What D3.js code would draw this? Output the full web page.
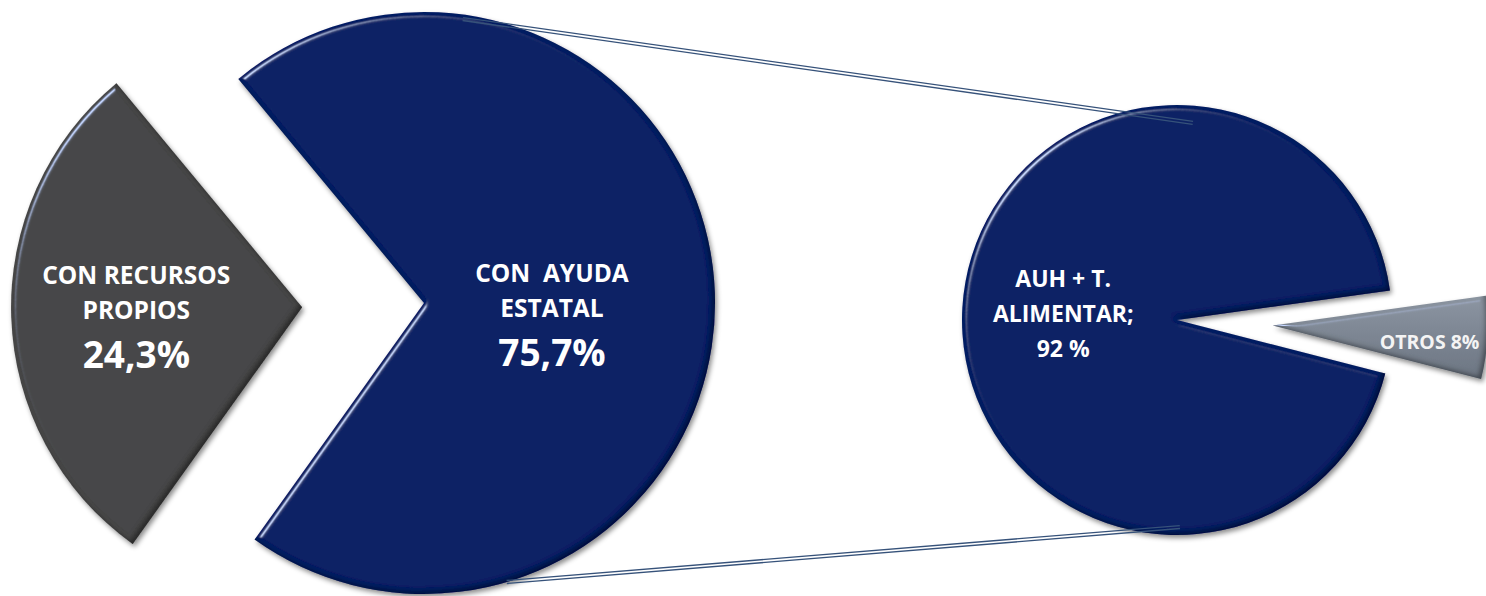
<!DOCTYPE html>
<html>
<head>
<meta charset="utf-8">
<script src="https://cdn.jsdelivr.net/npm/d3@7"></script>
<style>
  body { margin: 0; background: #fff; }
  svg { display: block; }
  text { font-family: 'Open Sans', 'Noto Sans', sans-serif; font-weight: 700; fill: #fff; white-space: pre; }
</style>
</head>
<body>
<svg id="chart"></svg>
<script>
// main pie: slice sizes as drawn in the picture, labels as printed on it
const mainCategories = ['CON RECURSOS PROPIOS', 'CON  AYUDA ESTATAL']
const mainShares = [29.1, 70.9]
const mainLabelLines = [['CON RECURSOS', 'PROPIOS'], ['CON  AYUDA', 'ESTATAL']]
const mainPercents = ['24,3%', '75,7%']

// secondary pie (breakdown of CON AYUDA ESTATAL)
const subCategories = ['AUH + T. ALIMENTAR', 'OTROS']
const subShares = [93.8, 6.2]
const subLabelLines = [['AUH + T.', 'ALIMENTAR;', '92 %'], ['OTROS 8%']]

const width = 1486
const height = 596
const deg = Math.PI / 180

const svg = d3.select('#chart')
  .attr('width', width)
  .attr('height', height)

const defs = svg.append('defs')

// office-like bevel + shadow
const f = defs.append('filter').attr('id', 'bevel')
  .attr('x', '-10%').attr('y', '-10%').attr('width', '125%').attr('height', '125%')
f.append('feGaussianBlur').attr('in', 'SourceAlpha').attr('stdDeviation', 2.5).attr('result', 'blur')
const spec = f.append('feSpecularLighting').attr('in', 'blur')
  .attr('surfaceScale', 4).attr('specularConstant', 1.2).attr('specularExponent', 50)
  .attr('lighting-color', '#b8c8ee').attr('result', 'spec')
spec.append('feDistantLight').attr('azimuth', 225).attr('elevation', 40)
f.append('feComposite').attr('in', 'spec').attr('in2', 'SourceAlpha').attr('operator', 'in').attr('result', 'specIn')
f.append('feComponentTransfer').attr('in', 'SourceAlpha').attr('result', 'inv')
  .append('feFuncA').attr('type', 'table').attr('tableValues', '1 0')
f.append('feOffset').attr('in', 'inv').attr('dx', -3).attr('dy', -3).attr('result', 'invOff')
f.append('feGaussianBlur').attr('in', 'invOff').attr('stdDeviation', 2).attr('result', 'invBlur')
f.append('feComposite').attr('in', 'invBlur').attr('in2', 'SourceAlpha').attr('operator', 'in').attr('result', 'innerA')
f.append('feFlood').attr('flood-color', '#000').attr('flood-opacity', 0.6).attr('result', 'black1')
f.append('feComposite').attr('in', 'black1').attr('in2', 'innerA').attr('operator', 'in').attr('result', 'inner')
f.append('feGaussianBlur').attr('in', 'SourceAlpha').attr('stdDeviation', 2.5).attr('result', 'ds')
f.append('feOffset').attr('in', 'ds').attr('dx', 2).attr('dy', 3).attr('result', 'dsOff')
f.append('feFlood').attr('flood-color', '#000').attr('flood-opacity', 0.45).attr('result', 'black2')
f.append('feComposite').attr('in', 'black2').attr('in2', 'dsOff').attr('operator', 'in').attr('result', 'drop')
const merge = f.append('feMerge')
;['drop', 'SourceGraphic', 'inner', 'specIn'].forEach(n => merge.append('feMergeNode').attr('in', n))

const otrosGrad = defs.append('linearGradient').attr('id', 'otrosGrad')
  .attr('x1', 0).attr('y1', 0).attr('x2', 0).attr('y2', 1)
otrosGrad.append('stop').attr('offset', '0%').attr('stop-color', '#8c95a1')
otrosGrad.append('stop').attr('offset', '100%').attr('stop-color', '#6c7581')

const mainColors = ['#474747', '#042263']
const subColors = ['#042263', 'url(#otrosGrad)']

const mainPie = { cx: 424, cy: 303, r: 291, start: 215.6 * deg, explode: [122, 0], labelR: [0.57, 0.44], labelDy: [-1, 12] }
const subPie = { cx: 1177, cy: 320, r: 215, start: 104.4 * deg, explode: [0, 96], labelR: [0.53, 0.73], labelDy: [-1, 6] }

const offset = (a, d) => [Math.sin(a) * d, -Math.cos(a) * d]

function drawPie(cfg, shares, colors, cls) {
  const arcs = d3.pie().sort(null)
    .startAngle(cfg.start).endAngle(cfg.start + 2 * Math.PI)(shares)
  const arc = d3.arc().innerRadius(0).outerRadius(cfg.r)

  const g = svg.append('g').classed(cls, true)
    .attr('transform', `translate(${cfg.cx},${cfg.cy})`)

  g.selectAll('path')
    .data(arcs)
    .join('path')
    .attr('d', arc)
    .attr('fill', (d, i) => colors[i])
    .attr('filter', 'url(#bevel)')
    .attr('transform', (d, i) => {
      const [dx, dy] = offset((d.startAngle + d.endAngle) / 2, cfg.explode[i])
      return `translate(${dx},${dy})`
    })
  return arcs
}

const mainArcs = drawPie(mainPie, mainShares, mainColors, 'main')
const subArcs = drawPie(subPie, subShares, subColors, 'sub')

// series lines (double line)
const seriesLines = [
  { from: 7.8 * deg, fromR: 0.985, to: 4.6 * deg, toR: 0.92 },
  { from: 163.5 * deg, fromR: 1.0, to: 179.2 * deg, toR: 0.963 }
]
const lines = svg.append('g').classed('series-lines', true)
seriesLines.forEach(s => {
  const [x1, y1] = offset(s.from, mainPie.r * s.fromR)
  const [x2, y2] = offset(s.to, subPie.r * s.toR)
  const p1 = [mainPie.cx + x1, mainPie.cy + y1]
  const p2 = [subPie.cx + x2, subPie.cy + y2]
  const len = Math.hypot(p2[0] - p1[0], p2[1] - p1[1])
  const nx = -(p2[1] - p1[1]) / len
  const ny = (p2[0] - p1[0]) / len
  ;[-1.5, 1.5].forEach(k => {
    lines.append('line')
      .attr('x1', p1[0] + nx * k).attr('y1', p1[1] + ny * k)
      .attr('x2', p2[0] + nx * k).attr('y2', p2[1] + ny * k)
      .attr('stroke', '#36527a')
      .attr('stroke-width', 1.3)
  })
})

// labels
function labelPos(cfg, d, i) {
  const mid = (d.startAngle + d.endAngle) / 2
  const [ex, ey] = offset(mid, cfg.explode[i])
  const [lx, ly] = offset(mid, cfg.r * cfg.labelR[i])
  return [cfg.cx + ex + lx, cfg.cy + ey + ly + cfg.labelDy[i]]
}

const mainLabels = svg.append('g').classed('main-labels', true)
mainArcs.forEach((d, i) => {
  const [x, y] = labelPos(mainPie, d, i)
  const t = mainLabels.append('text')
    .attr('x', x).attr('y', y)
    .attr('text-anchor', 'middle')
  mainLabelLines[i].forEach((line, j) => {
    t.append('tspan').attr('x', x).attr('y', y - 28 + j * 35)
      .attr('font-size', 24.5).text(line)
  })
  t.append('tspan').attr('x', x).attr('y', y + 56)
    .attr('font-size', 37).text(mainPercents[i])
})

const subLabels = svg.append('g').classed('sub-labels', true)
subArcs.forEach((d, i) => {
  const [x, y] = labelPos(subPie, d, i)
  const n = subLabelLines[i].length
  const t = subLabels.append('text')
    .attr('x', x).attr('y', y)
    .attr('text-anchor', 'middle')
    .attr('font-size', i === 0 ? 23 : 19.5)
    .style('fill', i === 0 ? '#fff' : '#f4f4f4')
  subLabelLines[i].forEach((line, j) => {
    t.append('tspan').attr('x', x)
      .attr('y', y + 9 + (j - (n - 1) / 2) * 35)
      .text(line)
  })
})
</script>
</body>
</html>
